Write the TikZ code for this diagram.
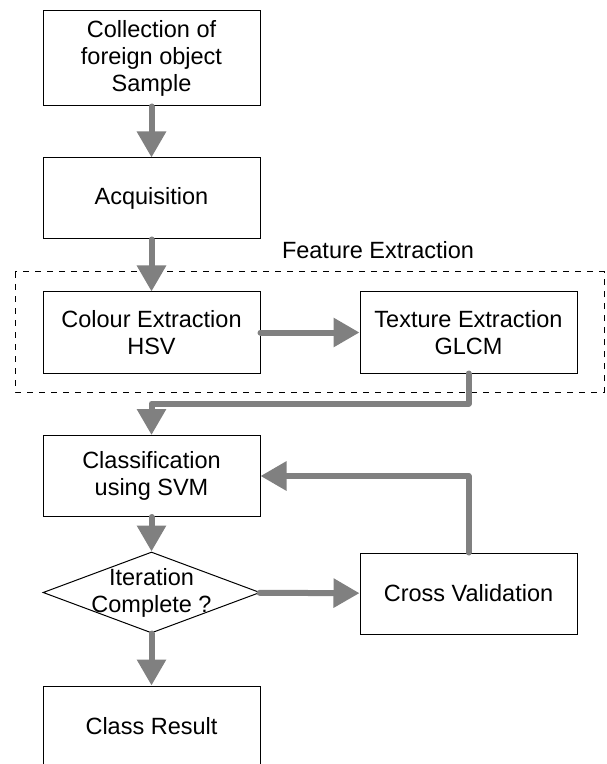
\documentclass[tikz,border=0pt]{standalone}
\usepackage{fontspec}
\setmainfont{Liberation Sans}
\usetikzlibrary{arrows.meta,shapes.geometric}

\begin{document}
\begin{tikzpicture}[x=0.5pt,y=-0.5pt,font=\fontsize{11.75pt}{13.5pt}\selectfont,
    flow/.style={color=gray,line width=3pt,line cap=round,line join=round,
      -{Triangle[length=13pt,width=14pt]}},
    stage/.style={shape=rectangle,draw=black,line width=0.5pt,minimum width=108.5pt,
      minimum height=40.5pt,align=center,inner sep=0pt}]
                \clip(0, 0) rectangle (606, 764);
                \node[stage,minimum height=47.5pt](sample)at(151.5, 58.5){Collection of\\foreign object\\Sample};
                \node[stage](acq)at(151.5, 198.5){Acquisition};
                \node[](featlbl)at(378, 250){Feature Extraction};
                \draw[dashed,line width=0.5pt](15, 272) rectangle (604, 392);
                \node[stage](colour)at(151.5, 332.5){Colour Extraction\\HSV};
                \node[stage](texture)at(468.5, 332.5){Texture Extraction\\GLCM};
                \node[stage](classify)at(151.5, 476){Classification\\using SVM};
                \node[shape=diamond,draw=black,line width=0.5pt,minimum width=108.5pt,
                  minimum height=40.5pt,inner sep=0pt](iter)at(151.5, 592.5){};
                \node[align=center](iterlbl)at(iter){Iteration\\Complete ?};
                \node[stage](cv)at(468.5, 593.5){Cross Validation};
                \node[stage](result)at(151.5, 726.5){Class Result};
                \path[flow](sample) edge (acq)
                (acq) edge (colour)
                (colour) edge (texture)
                (classify) edge (iter)
                (iter) edge (cv)
                (iter) edge (result);
                \draw[flow](texture.south) -- ++(0, 30) -| (classify.north);
                \draw[flow](cv.north) |- (classify.east);
            \end{tikzpicture}
\end{document}
